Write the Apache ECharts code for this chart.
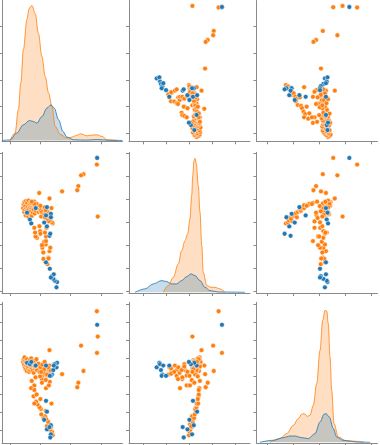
<!DOCTYPE html>
<html><head><meta charset="utf-8">
<script src="https://cdn.jsdelivr.net/npm/echarts@6/dist/echarts.min.js"></script>
<style>html,body{margin:0;padding:0;background:#fff;}#c{width:380px;height:445px;}</style>
</head><body><div id="c"></div>
<script>
// Tick values per variable (columns = x, rows = y)
const colTicks = [[0,2,4,6],[0,2,4,6,8],[0,5,10,15,20]];
const rowTicks = [[1,2,3,4,5],[1,2,3,4,5,6,7],[4,6,8,10,12,14,16,18]];
const colRange = [[-0.53,7.41],[-1.238,9.238],[-2.154,21.115]];
const rowRange = [[0.70,5.983],[0.908,7.057],[2.63,18.19]];

// Points: [A, B, C]
const orangeOutliers = [
 [5.73,6.81,12.6],[5.72,6.52,17.2],[5.78,4.25,14.4],[4.84,6.10,10.6],[4.68,6.05,13.4],
 [4.50,5.58,9.3],[4.43,5.40,8.8],[3.43,5.35,10.25],[2.60,5.04,12.9],[1.92,5.28,11.2]
];
const orangeCore = [
 [0.86,4.62,11.6],[0.90,4.78,11.9],[0.93,4.45,11.3],[0.95,4.88,12.1],[0.98,4.55,11.0],
 [1.00,4.70,11.7],[1.03,4.30,10.8],[1.05,4.92,11.5],[1.08,4.60,11.2],[1.10,4.40,10.6],
 [1.12,4.85,11.9],[1.15,4.52,11.4],[1.18,4.68,10.9],[1.20,4.25,11.1],[1.22,4.95,11.6],
 [1.25,4.58,10.5],[1.28,4.75,11.3],[1.30,4.35,11.8],[1.33,4.65,10.7],[1.35,4.88,11.0],
 [1.38,4.48,11.5],[1.40,4.72,12.0],[1.43,4.28,10.9],[1.45,4.62,11.2],[1.48,4.82,10.6],
 [1.50,4.42,11.7],[1.53,4.70,11.4],[1.56,4.55,10.4],[1.60,4.90,11.1],[1.63,4.38,11.6],
 [1.66,4.66,10.8],[1.70,4.50,11.3],[1.74,4.80,11.9],[1.80,4.60,10.7],[1.88,4.45,11.4]
];
const orangeLowB = [
 [2.46,2.17,10.2],[2.34,2.26,11.0],[2.52,2.46,10.6],[2.20,2.40,10.9],[2.54,2.42,10.3],
 [2.60,2.74,11.2],[2.65,2.89,10.7],[2.19,2.68,10.5],[2.13,2.89,10.06],[2.35,3.03,11.0],
 [2.25,3.15,10.4],[2.37,3.18,8.7],[2.37,3.38,9.7],[2.30,3.55,11.35],[2.40,3.76,10.1],
 [1.98,3.61,10.7],[2.00,3.50,11.0],[1.77,3.32,10.7],[1.68,3.38,9.9],[1.65,3.55,11.1],
 [1.60,3.76,9.0],[1.94,3.83,10.5],[2.10,3.00,9.7]
];
const orangeUpper = [
 [2.69,4.00,10.06],[2.62,4.30,9.4],[2.50,4.45,11.0],[2.56,4.04,9.0],[2.44,4.48,10.2],
 [2.35,4.19,9.6],[2.25,4.33,10.8],[2.10,4.42,9.3],[2.13,4.60,11.3],[1.98,4.71,10.0],
 [2.28,4.65,11.6],[2.05,4.25,10.5]
];
const orangeArc = [
 [2.81,3.95,3.5],[2.76,4.00,3.9],[2.65,4.08,4.1],[2.70,4.20,4.4],[2.55,4.05,4.7],
 [2.43,4.15,4.5],[2.50,4.28,5.0],[2.38,4.30,5.3],[2.30,4.22,5.6],[2.20,4.40,5.4],
 [2.06,4.45,5.8],[2.35,4.53,6.2],[2.03,4.50,6.4],[1.94,4.60,6.6],[1.81,4.65,6.9],
 [1.72,4.70,7.2],[2.73,4.62,7.0],[1.60,4.75,7.0],[1.55,4.78,7.8],[1.75,4.80,8.0],
 [1.39,4.85,8.7],[1.60,4.80,8.5],[1.43,4.90,9.5],[2.00,4.72,7.5]
];
const blueLowB = [
 [3.06,1.16,11.0],[3.10,1.39,11.5],[2.94,1.45,11.35],[2.85,1.53,10.7],[2.77,1.65,10.2],
 [2.88,1.73,11.2],[2.69,1.59,10.06],[2.62,1.97,10.06],[2.37,2.25,11.2]
];
const blueLowC = [
 [2.37,4.30,7.3],[2.43,4.66,6.1],[2.25,3.99,5.2],[2.69,4.37,4.6],
 [2.43,3.82,4.15],[2.60,3.41,4.4],[2.69,4.22,3.6],[2.65,3.50,3.25]
];
const blueLowA = [[1.69,4.62,11.2],[1.12,4.42,11.5],[1.31,4.12,11.35],[1.40,3.95,11.6]];
const blueOutlier = [[5.74,6.81,15.7]];

// KDE curves read from the diagonal: [value, density]
const kdeA_orange = [[0,0],[0.33,0.75],[0.55,3.1],[0.71,5.75],[0.88,9.1],[1.11,12.1],[1.26,13.2],[1.44,13.5],[1.66,12.7],[1.87,10.7],[2.1,8.4],[2.32,6.4],[2.54,4.75],[2.76,3.4],[2.98,1.4],[3.31,0.6],[3.75,0.25],[4.09,0.35],[4.37,0.5],[4.64,0.67],[5.08,0.47],[5.43,0.55],[5.74,0.57],[6.07,0.4],[6.4,0.07],[7.07,0]];
const kdeA_blue = [[-0.5,0],[0,0.05],[0.44,0.74],[0.88,1.57],[1.28,2.0],[1.54,1.9],[1.77,1.74],[2.1,2.4],[2.43,3.24],[2.7,3.57],[2.91,3.24],[3.2,2.07],[3.49,0.9],[3.75,0.34],[4.19,0.07],[4.97,0.04],[5.74,0.09],[6.6,0.02],[7.4,0]];
const kdeB_orange = [[1.73,0],[2.16,0.67],[2.6,1.5],[3.03,2.84],[3.32,4.17],[3.61,5.17],[3.84,5.84],[4.04,7.34],[4.19,9.67],[4.28,11.67],[4.39,13.17],[4.48,13.4],[4.59,12.84],[4.76,10.67],[4.91,8.0],[5.06,4.67],[5.19,2.0],[5.49,0.67],[5.86,0.5],[6.2,0.5],[6.64,0.34],[7.07,0]];
const kdeB_blue = [[-0.72,0],[0.15,0.34],[0.87,0.84],[1.59,1.17],[2.03,1.07],[2.46,0.84],[2.89,0.84],[3.32,1.17],[3.76,1.57],[4.13,1.84],[4.48,1.67],[4.91,1.17],[5.34,0.5],[5.77,0.17],[6.5,0.03],[8.8,0]];
const kdeC_orange = [[0.44,0],[2.37,0.37],[3.65,0.87],[4.92,1.7],[5.88,2.37],[6.54,2.8],[6.98,2.87],[7.62,2.6],[8.13,2.7],[8.77,3.7],[9.42,5.87],[10.06,9.2],[10.58,12.2],[11.02,13.2],[11.35,13.13],[11.65,11.87],[11.98,8.53],[12.31,5.2],[12.75,1.87],[13.58,0.53],[15.2,0.13],[17.1,0.1],[18.4,0]];
const kdeC_blue = [[-1.5,0],[1.08,0.2],[3.0,0.47],[4.29,0.63],[5.25,0.63],[6.54,0.47],[7.81,0.37],[9.1,0.87],[10.06,2.03],[10.83,2.8],[11.2,2.87],[11.85,2.53],[12.62,1.37],[13.27,0.53],[14.5,0.2],[15.8,0.13],[17.1,0.03],[19.7,0]];

const orangePts = [].concat(orangeOutliers, orangeCore, orangeLowB, orangeUpper, orangeArc);
const bluePts = [].concat(blueLowB, blueLowC, blueLowA, blueOutlier);
const kdeOrange = [kdeA_orange, kdeB_orange, kdeC_orange];
const kdeBlue = [kdeA_blue, kdeB_blue, kdeC_blue];

const BLUE = '#1f77b4', ORANGE = '#ff7f0e', AX = '#8a8a8a';
const colLeft = [2, 129, 256.5], colWidth = [120.5, 121, 121];
const rowTop = [0.5, 152.3, 302.3], rowHeight = 140.8;

function axisCfg(gi, range, ticks, pos) {
  return {type:'value', gridIndex:gi, position:pos, min:range[0], max:range[1],
    axisLine:{show:true, onZero:false, lineStyle:{color:AX, width:1}},
    axisTick:{show:true, length:3, inside:false, customValues:ticks, lineStyle:{color:AX, width:1}},
    axisLabel:{show:false}, splitLine:{show:false}};
}
const grid=[], xAxis=[], yAxis=[], series=[];
for (let i=0;i<3;i++) for (let j=0;j<3;j++) {
  const gi = grid.length;
  grid.push({left:colLeft[j], top:rowTop[i], width:colWidth[j], height:rowHeight});
  xAxis.push(axisCfg(gi, colRange[j], colTicks[j], 'bottom'));
  yAxis.push(axisCfg(gi, rowRange[i], rowTicks[i], 'left'));
  const yi = yAxis.length-1;
  if (i===j) {
    yAxis.push({type:'value', gridIndex:gi, min:-0.08, max:14.0, show:false});
    const di = yAxis.length-1;
    [[kdeOrange[i], ORANGE],[kdeBlue[i], BLUE]].forEach(([d,c])=>{
      series.push({type:'line', xAxisIndex:gi, yAxisIndex:di, data:d, smooth:0.35, smoothMonotone:'x',
        symbol:'none', silent:true, lineStyle:{color:c, width:1, opacity:0.8},
        areaStyle:{color:c, opacity:0.25}});
    });
  } else {
    [[orangePts, ORANGE],[bluePts, BLUE]].forEach(([pts,c])=>{
      series.push({type:'scatter', xAxisIndex:gi, yAxisIndex:yi, data:pts.map(p=>[p[j],p[i]]),
        symbol:'circle', symbolSize:4.8, silent:true,
        itemStyle:{color:c, borderColor:'#fff', borderWidth:0.5, opacity:1}});
    });
  }
}
const chart = echarts.init(document.getElementById('c'), null, {renderer:'canvas'});
chart.setOption({animation:false, backgroundColor:'#fff', grid, xAxis, yAxis, series});
</script>
</body></html>
